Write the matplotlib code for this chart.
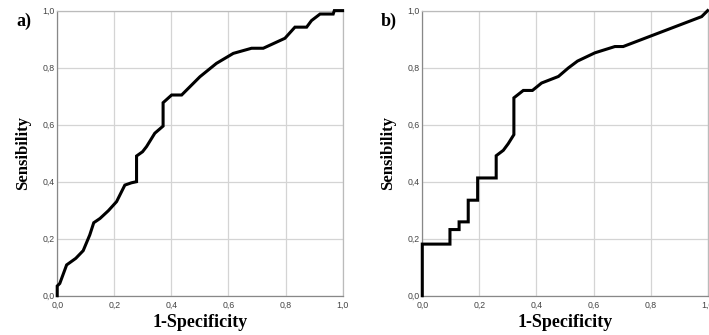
import matplotlib
matplotlib.use("Agg")
import matplotlib.pyplot as plt
from matplotlib.ticker import FuncFormatter

# -----------------------------
# ROC data
# -----------------------------
fpr_a = [0.0, 0.0, 0.009, 0.033, 0.065, 0.091, 0.114, 0.128, 0.150, 0.179, 0.208,
         0.237, 0.260, 0.278, 0.278, 0.299, 0.313, 0.342, 0.371, 0.371, 0.401,
         0.436, 0.500, 0.558, 0.617, 0.681, 0.722, 0.798, 0.833, 0.874, 0.891,
         0.921, 0.967, 0.971, 1.0]
tpr_a = [0.0, 0.034, 0.043, 0.108, 0.131, 0.158, 0.213, 0.256, 0.271, 0.298, 0.330,
         0.388, 0.396, 0.400, 0.490, 0.505, 0.523, 0.570, 0.595, 0.677, 0.704,
         0.704, 0.768, 0.815, 0.850, 0.868, 0.868, 0.903, 0.942, 0.942, 0.965,
         0.988, 0.988, 1.0, 1.0]

fpr_b = [0.0, 0.0, 0.097, 0.097, 0.129, 0.129, 0.161, 0.161, 0.194, 0.194, 0.259,
         0.259, 0.284, 0.301, 0.321, 0.321, 0.354, 0.386, 0.418, 0.477, 0.512,
         0.544, 0.605, 0.675, 0.704, 0.979, 1.0]
tpr_b = [0.0, 0.181, 0.181, 0.232, 0.232, 0.259, 0.259, 0.335, 0.335, 0.413, 0.413,
         0.491, 0.510, 0.533, 0.565, 0.694, 0.720, 0.720, 0.746, 0.769, 0.799,
         0.823, 0.852, 0.874, 0.874, 0.979, 1.0]

panels = [("a)", fpr_a, tpr_a), ("b)", fpr_b, tpr_b)]
ticks = [0.0, 0.2, 0.4, 0.6, 0.8, 1.0]

serif = ["Liberation Serif", "DejaVu Serif"]
comma = FuncFormatter(lambda v, p: f"{v:.1f}".replace(".", ","))

fig = plt.figure(figsize=(7.09, 3.35), dpi=100)
lefts = [0.0807, 0.5956]

for left, (tag, fpr, tpr) in zip(lefts, panels):
    ax = fig.add_axes([left, 0.1173, 0.4025, 0.851])
    ax.plot(fpr, tpr, color="black", linewidth=2.2, solid_joinstyle="miter",
            clip_on=False, zorder=3)
    ax.set_xlim(0, 1)
    ax.set_ylim(0, 1)
    ax.set_xticks(ticks)
    ax.set_yticks(ticks)
    ax.xaxis.set_major_formatter(comma)
    ax.yaxis.set_major_formatter(comma)
    ax.grid(True, color="#d4d4d4", linewidth=0.9)
    ax.set_axisbelow(True)
    ax.tick_params(length=0, labelsize=6.3, labelcolor="#444444",
                   labelfontfamily="Liberation Sans")
    ax.tick_params(axis="x", pad=4)
    ax.tick_params(axis="y", pad=2)
    for side, spine in ax.spines.items():
        spine.set_color("#bbbbbb" if side in ("top", "right") else "#888888")
        spine.set_linewidth(0.9)
    ax.set_xlabel("1-Specificity", fontfamily=serif, fontweight="bold",
                  fontsize=13, labelpad=3)
    ax.set_ylabel("Sensibility", fontfamily=serif, fontweight="bold",
                  fontsize=12, labelpad=8)
    fig.text(left - 0.058, 0.935, tag, fontfamily=serif, fontweight="bold",
             fontsize=13, ha="left", va="center")

fig.savefig("out.png", dpi=100)
